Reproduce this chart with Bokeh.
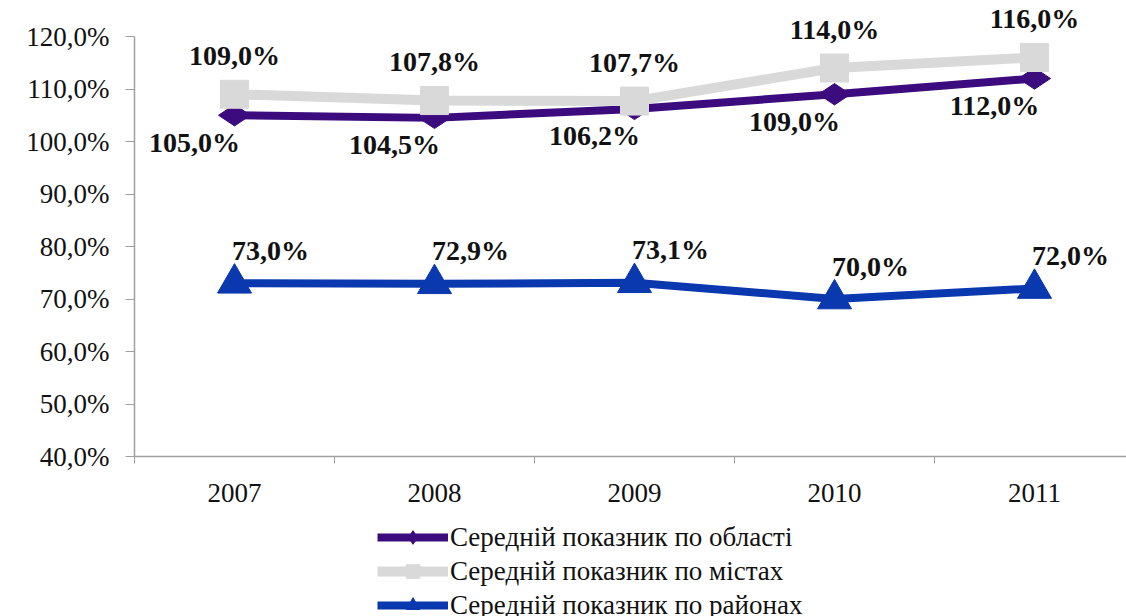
import numpy as np
from bokeh.plotting import figure
from bokeh.layouts import column
from bokeh.models import (Range1d, FixedTicker, CustomJSTickFormatter, Legend, LegendItem,
                          ColumnDataSource)
from bokeh.core.properties import value
from bokeh.embed import file_html
from bokeh.resources import INLINE

years = [2007, 2008, 2009, 2010, 2011]
oblast = [105.0, 104.5, 106.2, 109.0, 112.0]
cities = [109.0, 107.8, 107.7, 114.0, 116.0]
raions = [73.0, 72.9, 73.1, 70.0, 72.0]
series_names = ["Середній показник по області",
                "Середній показник по містах",
                "Середній показник по районах"]
y_ticks = [40, 50, 60, 70, 80, 90, 100, 110, 120]

C_OBL = "#3C0C7E"
C_CIT = "#D9D9D9"
C_RAI = "#0A38AE"
FONT = "'Liberation Serif', 'Times New Roman', serif"


def fmt(v):
    return f"{v:.1f}".replace(".", ",") + "%"


W, H = 1126, 520
LEFT, AXIS_TOP, FRAME_BOTTOM = 134, 36, 456
BOTTOM = H - FRAME_BOTTOM
frame_w = W - LEFT
px_per_unit = (FRAME_BOTTOM - AXIS_TOP) / (y_ticks[-1] - y_ticks[0])

p = figure(width=W, height=H, output_backend="svg", toolbar_location=None,
           x_range=Range1d(years[0] - 0.5, years[0] - 0.5 + frame_w / 200),
           y_range=Range1d(y_ticks[0], y_ticks[-1] + AXIS_TOP / px_per_unit),
           min_border_left=LEFT, min_border_right=0, min_border_top=0,
           min_border_bottom=BOTTOM)
p.outline_line_color = None
p.xgrid.grid_line_color = None
p.ygrid.grid_line_color = None
p.background_fill_color = "white"
p.border_fill_color = "white"

# x axis
p.xaxis.ticker = FixedTicker(ticks=years, minor_ticks=[y - 0.5 for y in years] + [years[-1] + 0.5])
p.xaxis.major_tick_out = 0
p.xaxis.major_tick_in = 0
p.xaxis.minor_tick_out = 7
p.xaxis.minor_tick_in = 0
p.xaxis.minor_tick_line_color = "#A0A0A0"
p.xaxis.axis_line_color = "#A0A0A0"
p.xaxis.axis_line_width = 1.5
p.xaxis.major_label_text_font = FONT
p.xaxis.major_label_text_font_size = "27px"
p.xaxis.major_label_text_color = "#111111"
p.xaxis.major_label_standoff = 20

# y axis
p.yaxis.ticker = FixedTicker(ticks=y_ticks)
p.yaxis.bounds = (y_ticks[0], y_ticks[-1])
p.yaxis.formatter = CustomJSTickFormatter(code="return tick.toFixed(1).replace('.', ',') + '%';")
p.yaxis.major_tick_out = 9
p.yaxis.major_tick_in = 0
p.yaxis.minor_tick_out = 0
p.yaxis.minor_tick_in = 0
p.yaxis.major_tick_line_color = "#A0A0A0"
p.yaxis.axis_line_color = "#A0A0A0"
p.yaxis.axis_line_width = 1.5
p.yaxis.major_label_text_font = FONT
p.yaxis.major_label_text_font_size = "27px"
p.yaxis.major_label_text_color = "#111111"
p.yaxis.major_label_standoff = 16

src_o = ColumnDataSource(dict(x=years, y=oblast, t=[fmt(v) for v in oblast]))
src_c = ColumnDataSource(dict(x=years, y=cities, t=[fmt(v) for v in cities]))
src_r = ColumnDataSource(dict(x=years, y=raions, t=[fmt(v) for v in raions]))

styles = [
    (src_o, C_OBL, 8, "diamond", 32, np.pi / 2),
    (src_c, C_CIT, 10, "square", 28, 0.0),
    (src_r, C_RAI, 8, "triangle", 34, 0.0),
]

for src, col, lw, mk, sz, ang in styles:
    p.line("x", "y", source=src, line_color=col, line_width=lw)
    p.scatter("x", "y", source=src, marker=mk, size=sz, angle=ang,
              fill_color=col, line_color=col)

common = dict(text="t", text_font=value(FONT), text_font_style="bold",
              text_font_size="28px", text_color="#111111",
              text_align="center", text_baseline="middle")
p.text("x", "y", source=src_c, x_offset=0, y_offset=-39, **common)
p.text("x", "y", source=src_o, x_offset=-40, y_offset=27, **common)
p.text("x", "y", source=src_r, x_offset=36, y_offset=-33, **common)

# legend panel below the chart
H2 = 616 - H
p2 = figure(width=W, height=H2, output_backend="svg", toolbar_location=None,
            x_range=Range1d(0, 1), y_range=Range1d(0, 1),
            min_border_left=LEFT, min_border_right=0, min_border_top=0,
            min_border_bottom=0)
p2.axis.visible = False
p2.grid.visible = False
p2.outline_line_color = None
p2.background_fill_color = "white"
p2.border_fill_color = "white"

items = []
for (src, col, lw, mk, sz, ang), name in zip(styles, series_names):
    rl = p2.line("x", "y", source=src, line_color=col, line_width=lw, visible=False)
    rm = p2.scatter("x", "y", source=src, marker=mk, size=sz * 0.62, angle=ang,
                    fill_color=col, line_color=col, visible=False)
    items.append(LegendItem(label=name, renderers=[rl, rm]))

ROW = 34
legend = Legend(items=items, location=(243, H2 - 3 * ROW), orientation="vertical",
                label_text_font=FONT, label_text_font_size="27px",
                label_text_color="#111111", label_standoff=2,
                glyph_width=71, glyph_height=ROW, label_height=ROW,
                spacing=0, padding=0, margin=0,
                background_fill_alpha=0, border_line_color=None)
p2.add_layout(legend, "center")

layout = column(p, p2, spacing=0)
open("out.html", "w").write(file_html(layout, INLINE))
